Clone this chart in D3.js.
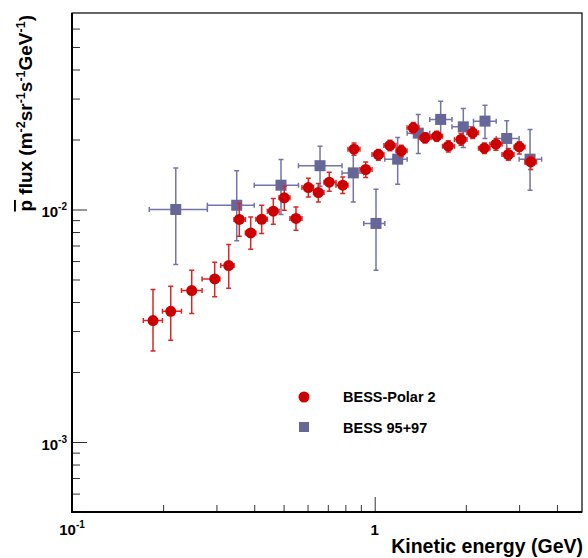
<!DOCTYPE html>
<html>
<head>
<meta charset="utf-8">
<script src="https://cdn.jsdelivr.net/npm/d3@7"></script>
<style>
  body { margin: 0; background: #fff; }
  text { font-family: "Liberation Sans", Arial, Helvetica, sans-serif; font-weight: bold; }
</style>
</head>
<body>
<div id="chart"></div>
<script>
// BESS-Polar II : energy (GeV), bin edges, flux and error bar extents
const polarE    = [0.1852,0.2119,0.2486,0.2961,0.3294,0.3570,0.3894,0.4233,0.4624,0.5027,0.5495,0.6036,0.6513,0.7079,0.7840,0.8546,0.9339,1.028,1.123,1.224,1.341,1.466,1.603,1.751,1.928,2.107,2.302,2.515,2.763,3.004,3.277];
const polarELo  = [0.172,0.199,0.230,0.269,0.310,0.343,0.374,0.405,0.442,0.483,0.525,0.575,0.628,0.680,0.745,0.816,0.894,0.980,1.073,1.176,1.279,1.401,1.535,1.675,1.835,2.018,2.203,2.403,2.634,2.886,3.137];
const polarEHi  = [0.199,0.230,0.269,0.308,0.343,0.374,0.405,0.442,0.483,0.525,0.575,0.628,0.680,0.745,0.816,0.894,0.980,1.073,1.176,1.279,1.401,1.535,1.675,1.835,2.018,2.203,2.403,2.634,2.886,3.137,3.424];
const polarFlux = [0.00333,0.00365,0.00448,0.00503,0.00574,0.00906,0.00793,0.00908,0.00983,0.01122,0.00915,0.01243,0.01183,0.01311,0.01272,0.01817,0.01486,0.01724,0.01885,0.01787,0.02245,0.02033,0.02067,0.01872,0.02001,0.02136,0.01835,0.01910,0.01724,0.01859,0.01602];
const polarFLo  = [0.00246,0.00274,0.00357,0.00421,0.00459,0.00768,0.00675,0.00789,0.00864,0.00993,0.00815,0.01133,0.01078,0.01199,0.01172,0.01712,0.01373,0.01630,0.01787,0.01684,0.02123,0.01934,0.01967,0.01769,0.01891,0.02021,0.01742,0.01800,0.01630,0.01732,0.01486];
const polarFHi  = [0.00453,0.00468,0.00548,0.00593,0.00707,0.01061,0.00929,0.01043,0.01115,0.01260,0.01026,0.01364,0.01294,0.01447,0.01381,0.01934,0.01602,0.01812,0.01987,0.01891,0.02368,0.02136,0.02172,0.01973,0.02123,0.02254,0.01934,0.02021,0.01829,0.01954,0.01695];

// BESS 95+97
const bessE    = [0.2202,0.3501,0.4903,0.6597,0.8497,1.010,1.191,1.393,1.652,1.962,2.314,2.730,3.260];
const bessELo  = [0.18,0.28,0.40,0.56,0.78,0.92,1.08,1.28,1.52,1.80,2.12,2.52,3.00];
const bessEHi  = [0.28,0.40,0.56,0.78,0.92,1.08,1.28,1.52,1.80,2.12,2.52,3.00,3.56];
const bessFlux = [0.0100,0.01043,0.01272,0.01543,0.01437,0.00871,0.01646,0.02130,0.02440,0.02267,0.02399,0.02021,0.01646];
const bessFLo  = [0.00580,0.00733,0.00952,0.01260,0.01078,0.00548,0.01285,0.01742,0.02047,0.01848,0.02021,0.01679,0.01211];
const bessFHi  = [0.01510,0.01466,0.01641,0.01872,0.01800,0.01223,0.02041,0.02564,0.02924,0.02720,0.02810,0.02406,0.02209];

const seriesNames = ["BESS-Polar 2", "BESS 95+97"];

// axis ticks
const xMajor = [0.1, 1];
const xMinor = [0.2,0.3,0.4,0.5,0.6,0.7,0.8,0.9,2,3,4];
const yMajor = [1e-3, 1e-2];
const yMinor = [6e-4,7e-4,8e-4,9e-4,2e-3,3e-3,4e-3,5e-3,6e-3,7e-3,8e-3,9e-3,0.02,0.03,0.04,0.05,0.06];
const xTickLabels = [{v: 0.1, base: "10", exp: "-1"}, {v: 1, base: "1", exp: ""}];
const yTickLabels = [{v: 1e-3, base: "10", exp: "-3"}, {v: 1e-2, base: "10", exp: "-2"}];

const W = 588, H = 558;
const margin = {top: 13, right: 6, bottom: 46, left: 72};
const width = W - margin.left - margin.right;
const height = H - margin.top - margin.bottom;

const svg = d3.select("#chart").append("svg")
    .attr("width", W).attr("height", H);
const g = svg.append("g").attr("transform", `translate(${margin.left},${margin.top})`);

const x = d3.scaleLog().domain([0.1, 4.84]).range([0, width]);
const y = d3.scaleLog().domain([5e-4, 0.07]).range([height, 0]);

// ticks (inward)
const tickCol = "#333";
g.append("g").attr("transform", `translate(0,${height})`)
    .call(d3.axisBottom(x).tickValues(xMinor).tickSize(-7).tickFormat(""))
    .call(a => a.select(".domain").remove())
    .selectAll("line").attr("stroke", tickCol);
g.append("g").attr("transform", `translate(0,${height})`)
    .call(d3.axisBottom(x).tickValues(xMajor).tickSize(-15).tickFormat(""))
    .call(a => a.select(".domain").remove())
    .selectAll("line").attr("stroke", tickCol);
g.append("g")
    .call(d3.axisLeft(y).tickValues(yMinor).tickSize(-8).tickFormat(""))
    .call(a => a.select(".domain").remove())
    .selectAll("line").attr("stroke", tickCol);
g.append("g")
    .call(d3.axisLeft(y).tickValues(yMajor).tickSize(-15).tickFormat(""))
    .call(a => a.select(".domain").remove())
    .selectAll("line").attr("stroke", tickCol);

// frame
g.append("rect").attr("width", width).attr("height", height)
    .attr("fill", "none").attr("stroke", "#000").attr("stroke-width", 1.2);
g.append("path").attr("d", `M0,0V${height}H${width}`)
    .attr("fill", "none").attr("stroke", "#000").attr("stroke-width", 2);

// tick labels
yTickLabels.forEach(t => {
  const tx = g.append("text").attr("x", -5).attr("y", y(t.v) + 8)
      .attr("text-anchor", "end").style("font-size", "15px");
  tx.append("tspan").text(t.base);
  tx.append("tspan").attr("dy", -7).style("font-size", "10px").text(t.exp);
});
xTickLabels.forEach(t => {
  const tx = g.append("text").attr("x", x(t.v)).attr("y", height + 23)
      .attr("text-anchor", "middle").style("font-size", "15px");
  tx.append("tspan").text(t.base);
  if (t.exp) tx.append("tspan").attr("dy", -7).style("font-size", "10px").text(t.exp);
});

// axis titles
g.append("text").attr("x", width + 1).attr("y", height + 41)
    .attr("text-anchor", "end").style("font-size", "19.5px")
    .text("Kinetic energy (GeV)");

const yt = g.append("text")
    .attr("transform", `translate(${32 - margin.left},2) rotate(-90)`)
    .attr("text-anchor", "end").style("font-size", "19px");
yt.append("tspan").style("text-decoration", "overline").text("p");
yt.append("tspan").text(" flux (m");
[["-2", "sr"], ["-1", "s"], ["-1", "GeV"], ["-1", ")"]].forEach(([e, s]) => {
  yt.append("tspan").attr("dy", -7).style("font-size", "12.5px").text(e);
  yt.append("tspan").attr("dy", 7).text(s);
});

// error bars + markers
function drawSeries(E, ELo, EHi, F, FLo, FHi, col, barCol, shape) {
  const idx = d3.range(E.length);
  const eb = g.append("g").attr("stroke", barCol).attr("stroke-width", 1.5).attr("fill", "none");
  const cap = 2.5;
  idx.forEach(i => {
    const cx = x(E[i]), cy = y(F[i]);
    const x0 = x(ELo[i]), x1 = x(EHi[i]);
    const y0 = y(FHi[i]), y1 = y(FLo[i]);
    eb.append("path").attr("d",
      `M${x0},${cy}H${x1}M${x0},${cy - cap}V${cy + cap}M${x1},${cy - cap}V${cy + cap}` +
      `M${cx},${y0}V${y1}M${cx - cap},${y0}H${cx + cap}M${cx - cap},${y1}H${cx + cap}`);
  });
  if (shape === "circle") {
    g.append("g").selectAll("circle").data(idx).join("circle")
        .attr("cx", i => x(E[i])).attr("cy", i => y(F[i])).attr("r", 5.5)
        .attr("fill", col);
  } else {
    g.append("g").selectAll("rect").data(idx).join("rect")
        .attr("x", i => x(E[i]) - 5.5).attr("y", i => y(F[i]) - 5.5)
        .attr("width", 11).attr("height", 11).attr("fill", col);
  }
}
drawSeries(bessE, bessELo, bessEHi, bessFlux, bessFLo, bessFHi, "#666699", "#7474a8", "square");
drawSeries(polarE, polarELo, polarEHi, polarFlux, polarFLo, polarFHi, "#cc0000", "#dc2626", "circle");

// legend
const lg = g.append("g").attr("transform", `translate(${304 - margin.left},${397 - margin.top})`);
lg.append("circle").attr("cx", 0).attr("cy", 0).attr("r", 5.5).attr("fill", "#cc0000");
lg.append("text").attr("x", 39).attr("y", 4.5).style("font-size", "14.5px").text(seriesNames[0]);
lg.append("rect").attr("x", -5).attr("y", 25).attr("width", 10).attr("height", 10).attr("fill", "#666699");
lg.append("text").attr("x", 39).attr("y", 36).style("font-size", "14.5px").text(seriesNames[1]);
</script>
</body>
</html>
